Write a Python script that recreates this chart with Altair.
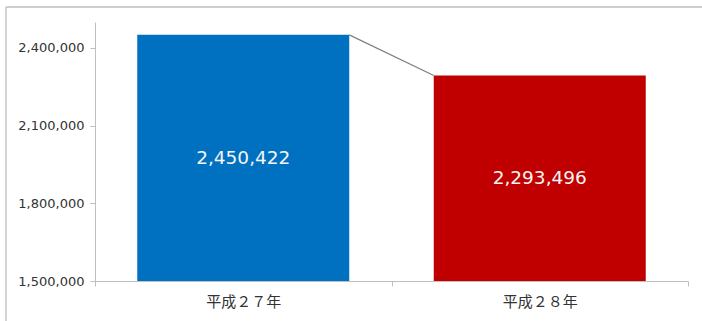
import altair as alt
import pandas as pd

categories = ["平成２７年", "平成２８年"]
values = [2450422, 2293496]
colors = ["#0070C0", "#C00000"]
y_ticks = [1500000, 1800000, 2100000, 2400000]
y_domain = [1500000, 2500000]

df = pd.DataFrame({"cat": categories, "value": values, "color": colors})
link = pd.DataFrame({"c1": [categories[0]], "c2": [categories[1]],
                     "v1": [values[0]], "v2": [values[1]]})

W, H = 593, 259
BAR_BAND = 0.715

x_scale = alt.Scale(domain=categories, paddingInner=0, paddingOuter=0)
y_scale = alt.Scale(domain=y_domain, nice=False, zero=False)

x_enc = alt.X("cat:N", scale=x_scale, sort=categories, title=None,
              axis=alt.Axis(labelAngle=0, tickBand="extent", domainColor="#BFBFBF",
                            tickColor="#BFBFBF", tickSize=5, labelPadding=8,
                            labelFont="Noto Sans CJK JP", labelFontSize=15,
                            labelColor="#333333"))

bars = alt.Chart(df).mark_bar(width=alt.RelativeBandSize(BAR_BAND)).encode(
    x=x_enc,
    y=alt.Y("value:Q", scale=y_scale, title=None,
            axis=alt.Axis(values=y_ticks, format=",d", grid=False,
                          domainColor="#BFBFBF", tickColor="#BFBFBF", tickSize=5,
                          labelPadding=6, labelFont="DejaVu Sans", labelFontSize=13,
                          labelColor="#333333")),
    y2=alt.datum(y_domain[0]),
    color=alt.Color("color:N", scale=None),
)

labels = alt.Chart(df).transform_calculate(
    mid="(datum.value + %d) / 2" % y_domain[0]
).mark_text(color="#F4F4F4", font="DejaVu Sans", fontSize=18.5, baseline="middle").encode(
    x=alt.X("cat:N", scale=x_scale, sort=categories),
    y=alt.Y("mid:Q", scale=y_scale),
    text=alt.Text("value:Q", format=",d"),
)

connector = alt.Chart(link).mark_rule(color="#7F7F7F", strokeWidth=1.2).encode(
    x=alt.X("c1:N", scale=x_scale, bandPosition=0.5 + BAR_BAND / 2),
    x2=alt.X2("c2", bandPosition=0.5 - BAR_BAND / 2),
    y=alt.Y("v1:Q", scale=y_scale),
    y2=alt.Y2("v2"),
)

frame_top = alt.Chart(link).mark_rule(color="#BFBFBF", strokeWidth=1.3).encode(
    x=alt.value(-89), x2=alt.value(620), y=alt.value(-15)
)
frame_left = alt.Chart(link).mark_rule(color="#BFBFBF", strokeWidth=1.3).encode(
    x=alt.value(-89), y=alt.value(-15), y2=alt.value(300)
)

chart = alt.layer(frame_top, frame_left, bars, connector, labels).properties(
    width=W, height=H,
    background="white",
    autosize=alt.AutoSizeParams(type="none"),
    padding={"left": 95, "top": 22, "right": 14, "bottom": 40},
).configure_view(stroke=None)

chart.save("out.html", embed_options={"renderer": "svg", "actions": False})
